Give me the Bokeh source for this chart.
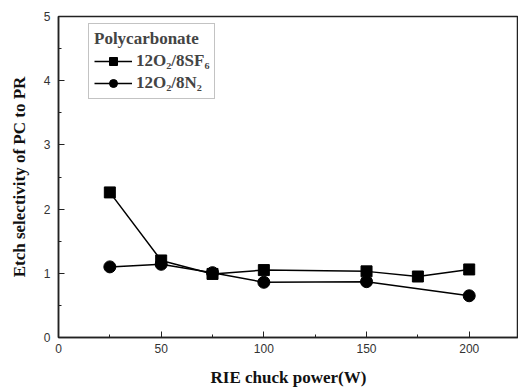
from bokeh.plotting import figure
from bokeh.models import Legend, LegendItem, Range1d, FixedTicker
from bokeh.embed import file_html
from bokeh.resources import INLINE

power = [25, 50, 75, 100, 150, 175, 200]
sf6 = [2.26, 1.20, 0.99, 1.05, 1.03, 0.95, 1.06]
power_n2 = [25, 50, 75, 100, 150, 200]
n2 = [1.10, 1.14, 1.01, 0.86, 0.87, 0.65]
x_ticks = [0, 50, 100, 150, 200]
y_ticks = [0, 1, 2, 3, 4, 5]

p = figure(frame_width=460, frame_height=321,
           output_backend="svg", toolbar_location=None,
           x_range=Range1d(0, 224), y_range=Range1d(0, 5),
           min_border_left=58, min_border_right=0, min_border_top=16, min_border_bottom=50)
p.background_fill_color = "white"
p.border_fill_color = "white"
p.outline_line_color = "#222222"
p.outline_line_width = 1.5
p.grid.visible = False

for ax in (p.xaxis[0], p.yaxis[0]):
    ax.axis_line_color = "#222222"
    ax.axis_line_width = 1.5
    ax.major_tick_in = 6
    ax.major_tick_out = 0
    ax.minor_tick_in = 3
    ax.minor_tick_out = 0
    ax.major_tick_line_color = "#222222"
    ax.minor_tick_line_color = "#222222"
    ax.major_label_text_font = "Liberation Sans"
    ax.major_label_text_font_size = "12px"
    ax.major_label_text_color = "#333333"
    ax.axis_label_text_font = "Liberation Serif"
    ax.axis_label_text_font_style = "bold"
    ax.axis_label_text_font_size = "17px"
    ax.axis_label_text_color = "#111111"

p.xaxis.ticker = FixedTicker(ticks=x_ticks, minor_ticks=[25, 75, 125, 175])
p.yaxis.ticker = FixedTicker(ticks=y_ticks, minor_ticks=[0.5, 1.5, 2.5, 3.5, 4.5])
p.xaxis.axis_label = "RIE chuck power(W)"
p.yaxis.axis_label = "Etch selectivity of PC to PR"
p.xaxis.major_label_standoff = 6
p.yaxis.major_label_standoff = 8
p.xaxis.axis_label_standoff = 12
p.yaxis.axis_label_standoff = 12

l1 = p.line(power, sf6, line_color="black", line_width=1.5)
m1 = p.scatter(power, sf6, marker="square", size=11, fill_color="black", line_color="black")
l2 = p.line(power_n2, n2, line_color="black", line_width=1.5)
m2 = p.scatter(power_n2, n2, marker="circle", size=12, fill_color="black", line_color="black")

legend = Legend(items=[LegendItem(label="12O\u2082/8SF\u2086", renderers=[l1, m1]),
                       LegendItem(label="12O\u2082/8N\u2082", renderers=[l2, m2])],
                location=(30, 238), title="Polycarbonate")
legend.title_text_font = "Liberation Serif"
legend.title_text_font_style = "bold"
legend.title_text_font_size = "17px"
legend.title_standoff = 2
legend.label_text_font = "Liberation Serif"
legend.label_text_font_style = "bold"
legend.label_text_font_size = "17px"
legend.glyph_width = 38
legend.glyph_height = 20
legend.spacing = 2
legend.padding = 5
legend.label_standoff = 4
legend.border_line_color = "#888888"
legend.border_line_width = 1
legend.background_fill_alpha = 1
p.add_layout(legend, "center")

open("out.html", "w").write(file_html(p, INLINE))
